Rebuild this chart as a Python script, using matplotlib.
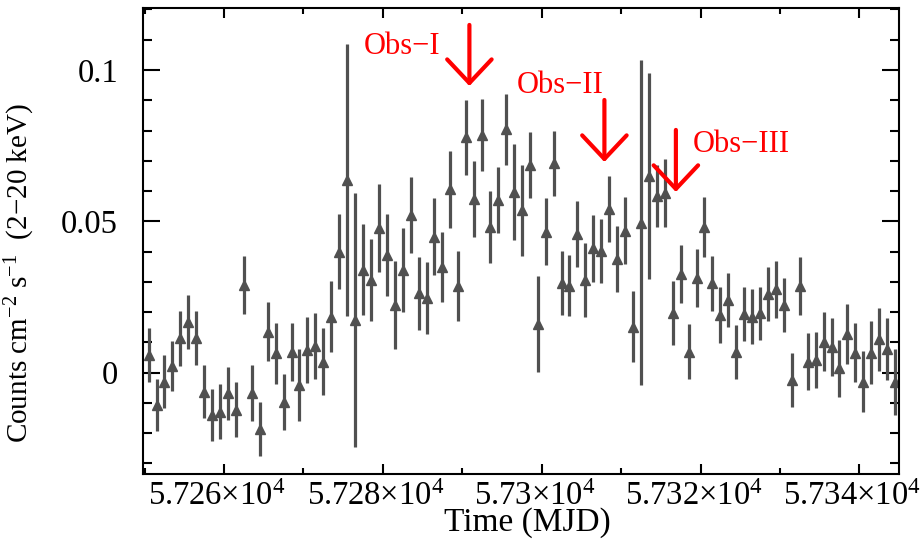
import matplotlib
matplotlib.use("Agg")
import matplotlib.pyplot as plt
from matplotlib.ticker import MultipleLocator, FuncFormatter
from matplotlib.transforms import ScaledTranslation

plt.rcParams["font.family"] = ["Liberation Serif", "DejaVu Serif"]
plt.rcParams["mathtext.default"] = "regular"

# daily light curve, MJD
mjd = [
    57250.5, 57251.5, 57252.5, 57253.5, 57254.5, 57255.5, 57256.5, 57257.5,
    57258.5, 57259.5, 57260.5, 57261.5, 57262.5, 57263.5, 57264.5, 57265.5,
    57266.5, 57267.5, 57268.5, 57269.5, 57270.5, 57271.5, 57272.5, 57273.5,
    57274.5, 57275.5, 57276.5, 57277.5, 57278.5, 57279.5, 57280.5, 57281.5,
    57282.5, 57283.5, 57284.5, 57285.5, 57286.5, 57287.5, 57288.5, 57289.5,
    57290.5, 57291.5, 57292.5, 57293.5, 57294.5, 57295.5, 57296.5, 57297.5,
    57298.5, 57299.5, 57300.5, 57301.5, 57302.5, 57303.5, 57304.5, 57305.5,
    57306.5, 57307.5, 57308.5, 57309.5, 57310.5, 57311.5, 57312.5, 57313.5,
    57314.5, 57315.5, 57316.5, 57317.5, 57318.5, 57319.5, 57320.5, 57321.5,
    57322.5, 57323.5, 57324.5, 57325.5, 57326.5, 57327.5, 57328.5, 57329.5,
    57330.5, 57331.5, 57332.5, 57333.5, 57334.5, 57335.5, 57336.5, 57337.5,
    57338.5, 57339.5, 57340.5, 57341.5, 57342.5, 57343.5, 57344.5,
]

rate = [
    0.0058, -0.0107, -0.0030, 0.0022, 0.0114, 0.0168, 0.0114, -0.0063,
    -0.0140, -0.0129, -0.0068, -0.0123, 0.0290, -0.0068, -0.0187, 0.0135,
    0.0064, -0.0096, 0.0069, -0.0041, 0.0075, 0.0088, 0.0036, 0.0185,
    0.0400, 0.0637, 0.0174, 0.0340, 0.0306, 0.0477, 0.0389, 0.0224,
    0.0339, 0.0521, 0.0262, 0.0246, 0.0449, 0.0348, 0.0606, 0.0286,
    0.0778, 0.0573, 0.0785, 0.0480, 0.0571, 0.0804, 0.0598, 0.0537,
    0.0686, 0.0161, 0.0466, 0.0692, 0.0297, 0.0287, 0.0458, 0.0306,
    0.0411, 0.0403, 0.0540, 0.0375, 0.0469, 0.0152, 0.0496, 0.0650,
    0.0583, 0.0593, 0.0196, 0.0326, 0.0069, 0.0313, 0.0482, 0.0295,
    0.0191, 0.0240, 0.0069, 0.0194, 0.0185, 0.0196, 0.0260, 0.0276,
    0.0224, -0.0024, 0.0286, 0.0036, 0.0042, 0.0102, 0.0086, 0.0015,
    0.0128, 0.0066, -0.0030, 0.0066, 0.0110, 0.0077, -0.0030,
]

rate_err = [
    0.0090, 0.0087, 0.0087, 0.0083, 0.0091, 0.0089, 0.0088, 0.0087,
    0.0086, 0.0091, 0.0087, 0.0091, 0.0097, 0.0093, 0.0089, 0.0097,
    0.0101, 0.0093, 0.0096, 0.0120, 0.0108, 0.0110, 0.0110, 0.0118,
    0.0124, 0.0450, 0.0420, 0.0150, 0.0135, 0.0146, 0.0135, 0.0145,
    0.0140, 0.0125, 0.0121, 0.0120, 0.0128, 0.0116, 0.0128, 0.0117,
    0.0124, 0.0125, 0.0120, 0.0119, 0.0109, 0.0117, 0.0159, 0.0150,
    0.0108, 0.0159, 0.0110, 0.0108, 0.0105, 0.0101, 0.0110, 0.0121,
    0.0110, 0.0106, 0.0109, 0.0109, 0.0110, 0.0117, 0.0537, 0.0339,
    0.0102, 0.0112, 0.0106, 0.0095, 0.0091, 0.0095, 0.0100, 0.0091,
    0.0092, 0.0088, 0.0090, 0.0090, 0.0090, 0.0088, 0.0090, 0.0094,
    0.0090, 0.0090, 0.0095, 0.0094, 0.0092, 0.0097, 0.0096, 0.0094,
    0.0099, 0.0097, 0.0101, 0.0105, 0.0103, 0.0103, 0.0109,
]

# observation epochs marked with arrows
obs_names = ["Obs\u2212I", "Obs\u2212II", "Obs\u2212III"]
obs_mjd = [57290.9, 57307.9, 57316.9]
obs_arrow_top = [0.1149, 0.0901, 0.0802]
obs_arrow_tip = [0.0947, 0.0696, 0.0597]
obs_text_x = [57282.4, 57302.3, 57325.2]
obs_text_y = [0.1079, 0.0950, 0.0755]

x_ticks = [57260, 57280, 57300, 57320, 57340]

fig = plt.figure(figsize=(9.22, 5.39), dpi=100)
ax = fig.add_axes([0.1551, 0.1206, 0.8200, 0.8646])

gray = "#505050"
ax.errorbar(mjd, rate, yerr=rate_err, fmt="^", color=gray, mec=gray,
            ms=7, elinewidth=2.3, capsize=0)

for name, x, top, tip, tx, ty in zip(obs_names, obs_mjd, obs_arrow_top,
                                     obs_arrow_tip, obs_text_x, obs_text_y):
    ax.annotate("", xy=(x, tip), xytext=(x, top),
                arrowprops=dict(arrowstyle="->,head_length=0.85,head_width=0.8",
                                color="red", lw=3, mutation_scale=20,
                                shrinkA=0, shrinkB=0))
    ax.text(tx, ty, name, color="red", fontsize=22, ha="center", va="center")

ax.set_xlim(57249.8, 57345.0)
ax.set_ylim(-0.0335, 0.1205)

ax.set_xticks(x_ticks)
ax.xaxis.set_minor_locator(MultipleLocator(10))
ax.yaxis.set_major_locator(MultipleLocator(0.05))
ax.yaxis.set_minor_locator(MultipleLocator(0.01))
ax.xaxis.set_major_formatter(FuncFormatter(lambda v, p: f"{v / 1e4:g}×10$^{{4}}$"))
ax.yaxis.set_major_formatter(FuncFormatter(lambda v, p: f"{round(v, 3):g}"))

ax.tick_params(which="both", direction="in", top=True, right=True, width=1.5)
ax.tick_params(axis="x", which="major", length=7, pad=5, labelsize=23.5)
ax.tick_params(axis="x", which="minor", length=4)
ax.tick_params(axis="y", which="major", length=12, pad=18, labelsize=23.5)
ax.tick_params(axis="y", which="minor", length=6.5)
for s in ax.spines.values():
    s.set_linewidth(1.5)

# the power-of-ten labels sit a little left of their ticks
shift = ScaledTranslation(-0.07, 0, fig.dpi_scale_trans)
for lab in ax.get_xticklabels():
    lab.set_transform(lab.get_transform() + shift)

ax.set_xlabel("Time (MJD)", fontsize=24)
ax.set_ylabel("Counts cm$^{-2}$ s$^{-1}$  (2\u221220 keV)", fontsize=21)
ax.xaxis.set_label_coords(0.508, -0.071)
ax.yaxis.set_label_coords(-0.14, 0.431)

fig.savefig("out.png", dpi=100)
